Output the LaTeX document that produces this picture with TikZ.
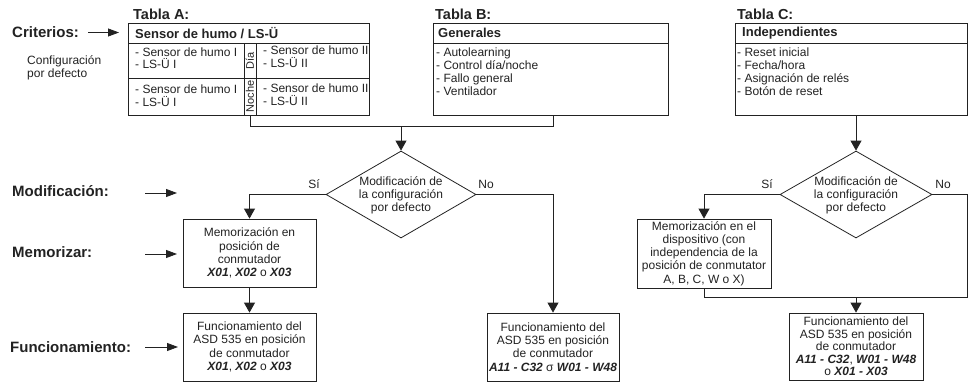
\documentclass[tikz,border=0pt]{standalone}
\usepackage{fontspec}
\setmainfont{Liberation Sans}
\usetikzlibrary{arrows.meta,shapes.geometric}
\definecolor{ink}{HTML}{222222}
\newcommand{\xbi}[1]{\textbf{\textit{#1}}}
\begin{document}
\begin{tikzpicture}[x=1pt,y=-1pt,
  every node/.style={text=ink},
  ln/.style={draw=ink,line width=0.8pt},
  arr/.style={ln,-{Triangle[length=10pt,width=11pt]}},
  larr/.style={ln,-{Triangle[length=11pt,width=8pt]}},
  sm/.style={font=\fontsize{12}{13.2}\selectfont},
  big/.style={font=\fontsize{15}{17}\selectfont\bfseries},
  ttl/.style={font=\fontsize{14.5}{17}\selectfont\bfseries},
  hdr/.style={font=\fontsize{13}{15}\selectfont\bfseries},
  lst/.style={font=\fontsize{12}{12.7}\selectfont,align=left,inner sep=0pt},
  tbl/.style={ln,inner sep=0pt,anchor=north west},
  flowbox/.style={ln,align=center,inner sep=0pt,sm},
  dia/.style={ln,shape=diamond,inner sep=0pt,minimum height=87pt},
  txt/.style={inner sep=0pt}]
\useasboundingbox (0,0) rectangle (968,383);

% ---- left labels
\node[big,txt,anchor=west] (lCrit) at (12,32.5) {Criterios:};
\node[sm,txt,anchor=west,align=left,font=\fontsize{12}{12.5}\selectfont] (lConf) at (27,68) {Configuración\\por defecto};
\node[big,txt,anchor=west] (lMod) at (12,191) {Modificación:};
\node[big,txt,anchor=west] (lMem) at (12,252) {Memorizar:};
\node[big,txt,anchor=west] (lFun) at (10,347.5) {Funcionamiento:};
\coordinate (cS) at (88,32.5); \coordinate (cE) at (119,32.5);
\coordinate (mS) at (145,193); \coordinate (mE) at (177,193);
\coordinate (rS) at (145,254); \coordinate (rE) at (177,254);
\coordinate (fS) at (145,347); \coordinate (fE) at (178,347);
\draw[larr] (cS) -- (cE);
\draw[larr] (mS) -- (mE);
\draw[larr] (rS) -- (rE);
\draw[larr] (fS) -- (fE);

% ---- Tabla A
\node[ttl,txt,anchor=west] (ttA) at (133,14.3) {Tabla A:};
\node[tbl,minimum width=241pt,minimum height=92.5pt] (tA) at (128,22.5) {};
\draw[ln] (128,43) -- (369,43);
\draw[ln] (128,78) -- (369,78);
\draw[ln] (244,43) -- (244,115);
\draw[ln] (256,43) -- (256,115);
\node[hdr,txt,anchor=west] (hA) at (135,33) {Sensor de humo / LS-Ü};
\node[lst,anchor=west,font=\fontsize{12}{12.3}\selectfont] (a1) at (135,58) {- Sensor de humo I\\- LS-Ü I};
\node[lst,anchor=west,font=\fontsize{12}{12.8}\selectfont] (a2) at (263,56.5) {- Sensor de humo II\\- LS-Ü II};
\node[lst,anchor=west,font=\fontsize{12}{12.8}\selectfont] (a3) at (135,95.5) {- Sensor de humo I\\- LS-Ü I};
\node[lst,anchor=west,font=\fontsize{12}{12.8}\selectfont] (a4) at (263,94.5) {- Sensor de humo II\\- LS-Ü II};
\node[txt,rotate=90,font=\fontsize{11}{11}\selectfont] (sDia) at (250,60.5) {Día};
\node[txt,rotate=90,font=\fontsize{11}{11}\selectfont] (sNoche) at (250,96.5) {Noche};
\coordinate (aout) at (250,115);

% ---- Tabla B
\node[ttl,txt,anchor=west] (ttB) at (435,14.3) {Tabla B:};
\node[tbl,minimum width=235pt,minimum height=92.5pt] (tB) at (433,22.5) {};
\draw[ln] (433,43) -- (668,43);
\node[hdr,txt,anchor=west] (hB) at (438,33) {Generales};
\node[lst,anchor=west] (bl) at (436,71.7) {- Autolearning\\- Control día/noche\\- Fallo general\\- Ventilador};
\coordinate (bout) at (553,115);

% ---- Tabla C
\node[ttl,txt,anchor=west] (ttC) at (737,14.3) {Tabla C:};
\node[tbl,minimum width=232pt,minimum height=92.5pt] (tC) at (735,22.5) {};
\draw[ln] (735,43) -- (967,43);
\node[hdr,txt,anchor=west] (hC) at (742,33) {Independientes};
\node[lst,anchor=west] (cl) at (737,71.7) {- Reset inicial\\- Fecha/hora\\- Asignación de relés\\- Botón de reset};

% ---- left flow
\node[dia,minimum width=150pt] (d1) at (401,194.5) {};
\node[sm,txt,align=center] (d1t) at (401,195.5) {Modificación de\\la configuración\\por defecto};
\node[flowbox,minimum width=133pt,minimum height=68pt] (b1) at (249.5,253) {Memorización en\\posición de\\conmutador\\\xbi{X01}, \xbi{X02} o \xbi{X03}};
\node[flowbox,minimum width=133pt,minimum height=68pt] (b2) at (249.5,347) {Funcionamiento del\\ASD 535 en posición\\de conmutador\\\xbi{X01}, \xbi{X02} o \xbi{X03}};
\node[flowbox,minimum width=132pt,minimum height=68pt] (b3) at (553,347) {Funcionamiento del\\ASD 535 en posición\\de conmutador\\\xbi{A11 - C32} σ \xbi{W01 - W48}};
\node[sm,txt] (si1) at (314,184) {Sí};
\node[sm,txt] (no1) at (486,184) {No};

\coordinate (j1) at (401,126);
\draw[ln] (aout) |- (bout |- j1) -- (bout);
\draw[arr] (j1) -- (d1.north);
\draw[arr] (d1.west) -| (b1.north);
\draw[arr] (b1.south) -- (b2.north);
\draw[arr] (d1.east) -| (b3.north);

% ---- right flow
\node[dia,minimum width=152pt] (d2) at (856,194.5) {};
\node[sm,txt,align=center] (d2t) at (856,195.5) {Modificación de\\la configuración\\por defecto};
\node[flowbox,minimum width=134pt,minimum height=69pt] (b4) at (704,253.5) {Memorización en el\\dispositivo (con\\independencia de la\\posición de conmutator\\A, B, C, W o X)};
\node[flowbox,minimum width=134pt,minimum height=67pt,font=\fontsize{12}{12.6}\selectfont] (b5) at (856,346.5) {Funcionamiento del\\ASD 535 en posición\\de conmutador\\\xbi{A11 - C32}, \xbi{W01 - W48}\\o \xbi{X01 - X03}};
\node[sm,txt] (si2) at (767,184) {Sí};
\node[sm,txt] (no2) at (943,184) {No};

\coordinate (j2) at (967,297);
\draw[arr] (d2.north |- tC.south) -- (d2.north);
\draw[arr] (d2.west) -| (b4.north);
\draw[ln] (b4.south) |- (j2) |- (d2.east);
\draw[arr] (b5.north |- j2) -- (b5.north);
\end{tikzpicture}
\end{document}
